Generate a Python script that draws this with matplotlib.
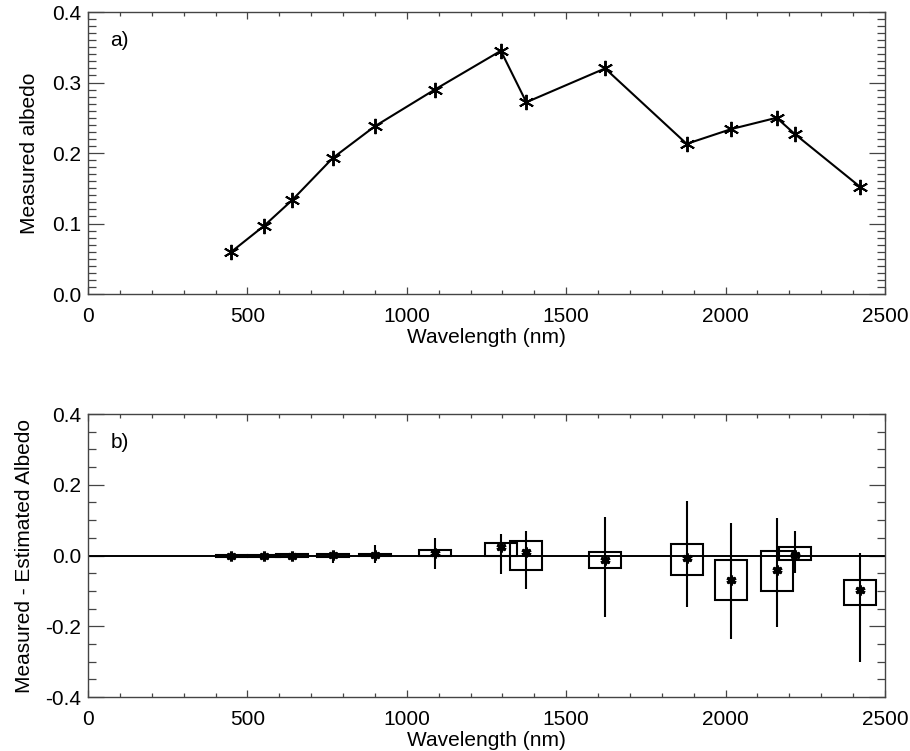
import numpy as np
import matplotlib
matplotlib.use("Agg")
import matplotlib.pyplot as plt
from matplotlib.ticker import MultipleLocator, FormatStrFormatter

plt.rcParams['font.family'] = ['Liberation Sans', 'DejaVu Sans']
plt.rcParams['font.size'] = 15

# wavelengths of the bands (nm)
wavelength = np.array([450, 553, 640, 768, 900, 1088, 1295, 1375, 1622,
                       1878, 2018, 2160, 2217, 2422])

# panel a: measured albedo
albedo = np.array([0.060, 0.097, 0.133, 0.193, 0.238, 0.290, 0.345, 0.272,
                   0.320, 0.213, 0.234, 0.250, 0.227, 0.152])

# panel b: measured - estimated albedo
resid = np.array([0.000, -0.002, 0.000, 0.001, 0.002, 0.008, 0.025, 0.010,
                  -0.012, -0.008, -0.070, -0.042, 0.002, -0.097])
box_lo = np.array([-0.003, -0.004, -0.003, -0.003, -0.001, 0.000, 0.000, -0.040,
                   -0.036, -0.056, -0.127, -0.101, -0.014, -0.140])
box_hi = np.array([0.002, 0.001, 0.003, 0.004, 0.004, 0.017, 0.034, 0.042,
                   0.010, 0.032, -0.014, 0.014, 0.025, -0.068])
line_lo = np.array([-0.005, -0.007, -0.006, -0.020, -0.022, -0.037, -0.053, -0.096,
                    -0.175, -0.146, -0.237, -0.203, -0.050, -0.300])
line_hi = np.array([0.005, 0.004, 0.006, 0.012, 0.030, 0.050, 0.060, 0.070,
                    0.110, 0.155, 0.093, 0.107, 0.070, 0.008])

star = (6, 2, 0)

fig = plt.figure(figsize=(9.10, 7.51), dpi=100)
ax1 = fig.add_axes([0.0967, 0.6085, 0.8758, 0.3755])
ax2 = fig.add_axes([0.0967, 0.0719, 0.8758, 0.3768])


def style_axes(ax, ymajor, yminor):
    ax.set_xlim(0, 2500)
    ax.xaxis.set_major_locator(MultipleLocator(500))
    ax.xaxis.set_minor_locator(MultipleLocator(100))
    ax.yaxis.set_major_locator(MultipleLocator(ymajor))
    ax.yaxis.set_minor_locator(MultipleLocator(yminor))
    ax.yaxis.set_major_formatter(FormatStrFormatter('%.1f'))
    ax.tick_params(axis='both', which='both', direction='in',
                   top=True, right=True, color='#444444', width=0.9)
    ax.tick_params(axis='x', which='major', length=5, pad=9)
    ax.tick_params(axis='x', which='minor', length=3)
    ax.tick_params(axis='y', which='major', length=11.5, pad=5)
    ax.tick_params(axis='y', which='minor', length=6)
    for sp in ax.spines.values():
        sp.set_color('#444444')
        sp.set_linewidth(1.0)
    ax.set_xlabel("Wavelength (nm)", labelpad=2)


# panel a
ax1.plot(wavelength, albedo, color='black', lw=1.5, marker=star,
         markersize=11, markeredgewidth=1.4)
ax1.set_ylim(0, 0.4)
style_axes(ax1, 0.1, 0.01)
ax1.set_ylabel("Measured albedo", labelpad=9)
ax1.text(70, 0.359, "a)", va='center', ha='left')

# panel b
ax2.axhline(0, color='black', lw=1.4)
ax2.vlines(wavelength, line_lo, line_hi, color='black', lw=1.5)
ax2.bar(wavelength, box_hi - box_lo, bottom=box_lo, width=100,
        fill=False, edgecolor='black', linewidth=1.5)
ax2.plot(wavelength, resid, linestyle='none', color='black', marker=star,
         markersize=7, markeredgewidth=2.2)
ax2.set_ylim(-0.4, 0.4)
style_axes(ax2, 0.2, 0.05)
ax2.set_ylabel("Measured - Estimated Albedo", labelpad=8)
ax2.text(70, 0.32, "b)", va='center', ha='left')

fig.savefig("out.png", dpi=100)
